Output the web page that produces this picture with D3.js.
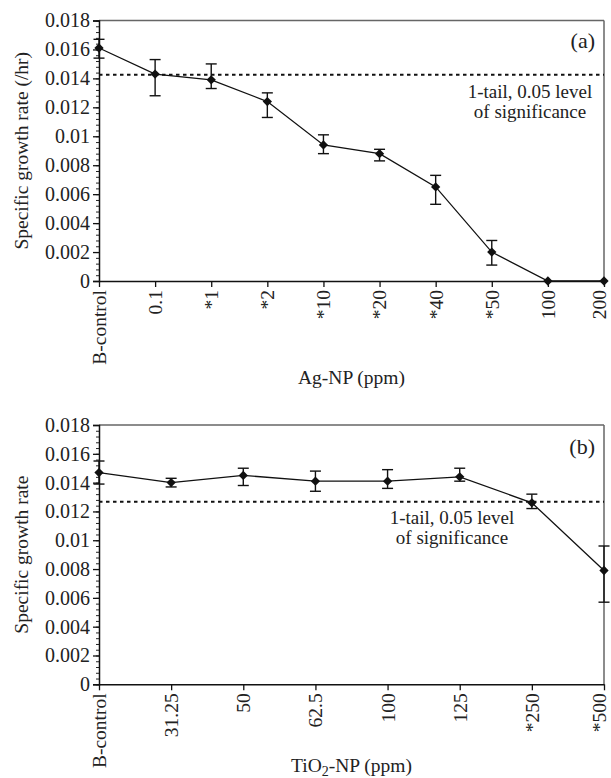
<!DOCTYPE html>
<html>
<head>
<meta charset="utf-8">
<script src="https://cdn.jsdelivr.net/npm/d3@7"></script>
<style>
  html, body { margin: 0; padding: 0; background: #fff; }
  svg { display: block; }
  text { font-family: "Liberation Serif", "DejaVu Serif", serif; fill: #222; }
</style>
</head>
<body>
<svg id="chart" width="611" height="778"></svg>
<script>
// ---------------- Data ----------------
const agCategories = ["B-control", "0.1", "*1", "*2", "*10", "*20", "*40", "*50", "100", "200"];
const agRate      = [0.0161, 0.0143, 0.0139, 0.0124, 0.0094, 0.0088, 0.0065, 0.0020, 0, 0];
const agErrLow    = [0.0154, 0.0128, 0.0133, 0.0113, 0.0088, 0.0083, 0.0053, 0.0011, 0, 0];
const agErrHigh   = [0.0167, 0.0153, 0.0150, 0.0130, 0.0101, 0.0091, 0.0073, 0.0028, 0, 0];
const agThreshold = 0.01425;

const tiCategories = ["B-control", "31.25", "50", "62.5", "100", "125", "*250", "*500"];
const tiRate      = [0.0147, 0.0140, 0.0145, 0.0141, 0.0141, 0.0144, 0.0126, 0.0079];
const tiErrLow    = [0.0139, 0.0137, 0.0138, 0.0134, 0.0136, 0.0141, 0.0122, 0.0057];
const tiErrHigh   = [0.0155, 0.0143, 0.0150, 0.0148, 0.0149, 0.0150, 0.0132, 0.0096];
const tiThreshold = 0.01268;

const yTickValues = [0, 0.002, 0.004, 0.006, 0.008, 0.01, 0.012, 0.014, 0.016, 0.018];
const yTickLabels = ["0", "0.002", "0.004", "0.006", "0.008", "0.01", "0.012", "0.014", "0.016", "0.018"];
const yMinorStep = 0.0004;
const thresholdLabel = ["1-tail, 0.05 level", "of significance"];

// ---------------- Drawing ----------------
const svg = d3.select("#chart");
const FONT = "'Liberation Serif', 'DejaVu Serif', serif";

function drawPanel(p) {
  const g = svg.append("g");
  const x = d3.scalePoint().domain(p.categories).range([p.left, p.right]).padding(0);
  const y = d3.scaleLinear().domain([0, 0.018]).range([p.bottom, p.top]);

  // frame (top & right)
  g.append("line").attr("x1", p.left).attr("x2", p.right).attr("y1", p.top).attr("y2", p.top)
    .attr("stroke", "#666").attr("stroke-width", 1.5);
  g.append("line").attr("x1", p.right).attr("x2", p.right).attr("y1", p.top).attr("y2", p.bottom)
    .attr("stroke", "#666").attr("stroke-width", 1.5);

  // minor y ticks
  const minor = d3.range(0, 0.018 + 1e-9, yMinorStep);
  g.append("g").attr("transform", `translate(${p.left},0)`)
    .call(d3.axisLeft(y).tickValues(minor).tickSize(3).tickFormat(""))
    .call(a => a.select(".domain").remove())
    .call(a => a.selectAll("line").attr("stroke", "#222").attr("stroke-width", 1));

  // major y axis
  const yAxis = g.append("g").attr("transform", `translate(${p.left},0)`)
    .call(d3.axisLeft(y).tickValues(yTickValues).tickSize(6).tickPadding(3)
      .tickFormat((d, i) => yTickLabels[i]));
  yAxis.select(".domain").attr("stroke", "#111").attr("stroke-width", 1.5);
  yAxis.selectAll("line").attr("stroke", "#111").attr("stroke-width", 1.3);
  yAxis.selectAll("text").attr("font-size", 20).attr("fill", "#222").style("font-family", FONT);

  // x axis
  const xAxis = g.append("g").attr("transform", `translate(0,${p.bottom})`)
    .call(d3.axisBottom(x).tickSize(6).tickSizeOuter(0));
  xAxis.select(".domain").attr("stroke", "#111").attr("stroke-width", 1.5);
  xAxis.selectAll("line").attr("stroke", "#111").attr("stroke-width", 1.3);
  const n = p.categories.length;
  xAxis.selectAll("text")
    .attr("font-size", 19.5).attr("fill", "#222")
    .style("font-family", FONT)
    .attr("text-anchor", "end")
    .attr("transform", "rotate(-90)")
    .attr("x", -9).attr("y", 0)
    .attr("dy", (d, i) => i === n - 1 ? "0.1em" : "0.33em");

  // threshold dotted line
  g.append("line").attr("x1", p.left).attr("x2", p.right)
    .attr("y1", y(p.threshold)).attr("y2", y(p.threshold))
    .attr("stroke", "#111").attr("stroke-width", 2).attr("stroke-dasharray", "3.5,3.5");

  // threshold label
  thresholdLabel.forEach((t, i) => {
    g.append("text").attr("x", p.noteX).attr("y", y(p.threshold) + p.noteDy + i * 20)
      .attr("text-anchor", "middle").attr("font-size", 19).text(t);
  });

  // panel letter
  g.append("text").attr("x", p.right - 9).attr("y", p.top + p.letterDy)
    .attr("text-anchor", "end").attr("font-size", 22).text(p.letter);

  const data = p.categories.map((c, i) => ({ c, v: p.rate[i], lo: p.lo[i], hi: p.hi[i] }));

  // connecting line
  g.append("path").datum(data)
    .attr("fill", "none").attr("stroke", "#111").attr("stroke-width", 1.3)
    .attr("d", d3.line().x(d => x(d.c)).y(d => y(d.v)));

  // error bars
  const eb = g.append("g").attr("stroke", "#111").attr("stroke-width", 1.4);
  data.filter(d => d.hi > d.lo).forEach(d => {
    const cx = x(d.c);
    eb.append("line").attr("x1", cx).attr("x2", cx).attr("y1", y(d.lo)).attr("y2", y(d.hi));
    eb.append("line").attr("x1", cx - 5.5).attr("x2", cx + 5.5).attr("y1", y(d.lo)).attr("y2", y(d.lo));
    eb.append("line").attr("x1", cx - 5.5).attr("x2", cx + 5.5).attr("y1", y(d.hi)).attr("y2", y(d.hi));
  });

  // diamond markers
  const diamond = d3.symbol().type(d3.symbolDiamond2).size(55);
  g.append("g").selectAll("path").data(data).join("path")
    .attr("transform", d => `translate(${x(d.c)},${y(d.v)})`)
    .attr("d", diamond).attr("fill", "#111");

  // y title
  g.append("text")
    .attr("transform", `translate(28,${(p.top + p.bottom) / 2}) rotate(-90)`)
    .attr("text-anchor", "middle").attr("font-size", 19.5).text(p.yTitle);

  // x title
  const xt = g.append("text").attr("x", (p.left + p.right) / 2).attr("y", p.xTitleY)
    .attr("text-anchor", "middle").attr("font-size", 19.5);
  p.xTitle(xt);
}

drawPanel({
  categories: agCategories, rate: agRate, lo: agErrLow, hi: agErrHigh, threshold: agThreshold,
  left: 99, right: 604, top: 20.5, bottom: 281,
  noteX: 530, noteDy: 23, letter: "(a)", letterDy: 27,
  yTitle: "Specific growth rate (/hr)",
  xTitleY: 384,
  xTitle: t => t.text("Ag-NP (ppm)")
});

drawPanel({
  categories: tiCategories, rate: tiRate, lo: tiErrLow, hi: tiErrHigh, threshold: tiThreshold,
  left: 99, right: 604, top: 425, bottom: 684.3,
  noteX: 452, noteDy: 22, letter: "(b)", letterDy: 29,
  yTitle: "Specific growth rate",
  xTitleY: 772,
  xTitle: t => {
    t.append("tspan").text("TiO");
    t.append("tspan").attr("font-size", 14).attr("dy", 4).text("2");
    t.append("tspan").attr("dy", -4).text("-NP (ppm)");
  }
});
</script>
</body>
</html>
